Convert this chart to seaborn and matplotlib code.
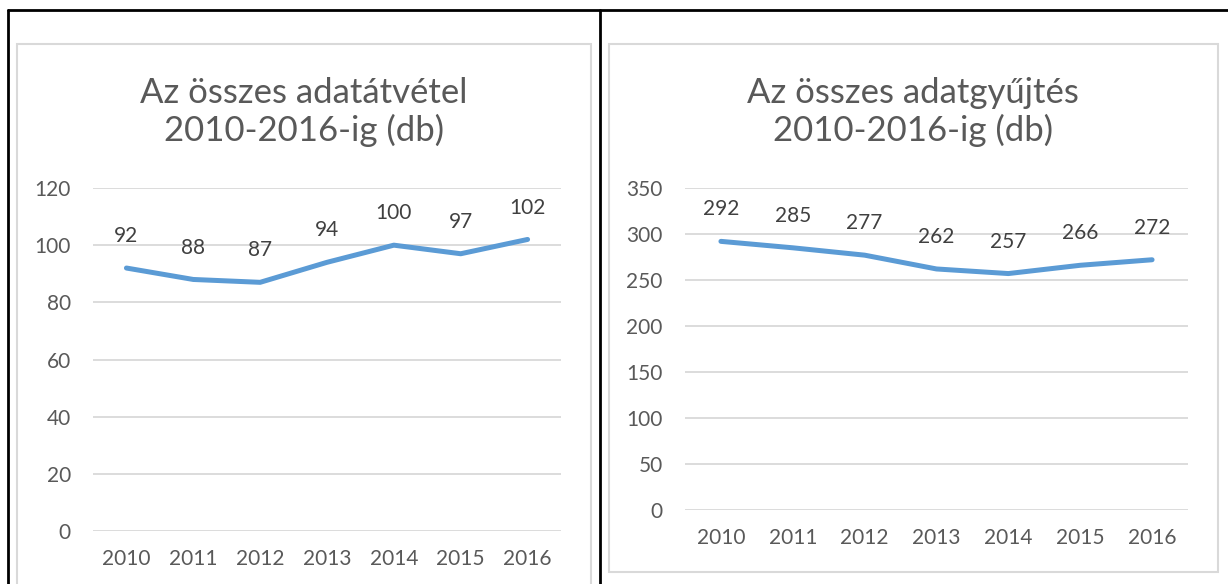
import pandas as pd
import matplotlib.pyplot as plt
import seaborn as sns
from matplotlib.lines import Line2D
from matplotlib.patches import Rectangle

# Data
years = [2010, 2011, 2012, 2013, 2014, 2015, 2016]
atvetel = [92, 88, 87, 94, 100, 97, 102]
gyujtes = [292, 285, 277, 262, 257, 266, 272]

left_title = "Az összes adatátvétel\n2010-2016-ig (db)"
right_title = "Az összes adatgyűjtés\n2010-2016-ig (db)"

sns.set_theme(style="white")
plt.rcParams["font.family"] = ["Lato", "DejaVu Sans"]

W, H = 1228, 584
fig = plt.figure(figsize=(W / 100, H / 100), dpi=100)

LINE = "#5B9BD5"
GRID = "#D9D9D9"
TICK = "#595959"
LABEL = "#404040"


def px_rect(x0, y0, x1, y1):
    # pixel box (top-left origin) -> figure fractions
    return [x0 / W, 1 - y1 / H, (x1 - x0) / W, (y1 - y0) / H]


def draw_chart(ax, values, ymax, ystep, title, title_xy):
    df = pd.DataFrame({"year": years, "value": values})
    sns.lineplot(data=df, x="year", y="value", ax=ax, color=LINE,
                 linewidth=3.6, solid_capstyle="round", solid_joinstyle="round")
    ax.set_xlim(years[0] - 0.5, years[-1] + 0.5)
    ax.set_ylim(0, ymax)
    ax.set_xticks(years)
    ax.set_yticks(range(0, ymax + 1, ystep))
    ax.set_xlabel("")
    ax.set_ylabel("")
    for s in ax.spines.values():
        s.set_visible(False)
    ax.grid(axis="y", color=GRID, linewidth=1.3)
    ax.set_axisbelow(True)
    ax.tick_params(axis="both", length=0, labelsize=15, labelcolor=TICK)
    ax.tick_params(axis="y", pad=16)
    ax.tick_params(axis="x", pad=13)
    for x, v in zip(years, values):
        ax.annotate(str(v), (x, v), xytext=(0, 23), textcoords="offset points",
                    ha="center", va="center", fontsize=15, color=LABEL)
    fig.text(title_xy[0] / W, 1 - title_xy[1] / H, title, ha="center", va="center",
             fontsize=25, color=TICK, linespacing=1.2)


ax1 = fig.add_axes(px_rect(93, 188, 561, 531))
draw_chart(ax1, atvetel, 120, 20, left_title, (304, 112))

ax2 = fig.add_axes(px_rect(685, 188, 1188, 510))
draw_chart(ax2, gyujtes, 350, 50, right_title, (913, 112))

# light chart frames
for x0, y0, x1, y1 in [(17, 44, 591, 600), (609, 44, 1218, 572)]:
    fig.add_artist(Rectangle((x0 / W, 1 - y1 / H), (x1 - x0) / W, (y1 - y0) / H,
                             transform=fig.transFigure, fill=False,
                             edgecolor=GRID, linewidth=1.5))

# black table borders
k = dict(transform=fig.transFigure, color="black", linewidth=2)
fig.add_artist(Line2D([8 / W, 1], [1 - 10 / H, 1 - 10 / H], **k))
fig.add_artist(Line2D([8.3 / W, 8.3 / W], [0, 1 - 10 / H], **k))
fig.add_artist(Line2D([600 / W, 600 / W], [0, 1 - 10 / H], **k))

fig.savefig("out.png", dpi=100)
